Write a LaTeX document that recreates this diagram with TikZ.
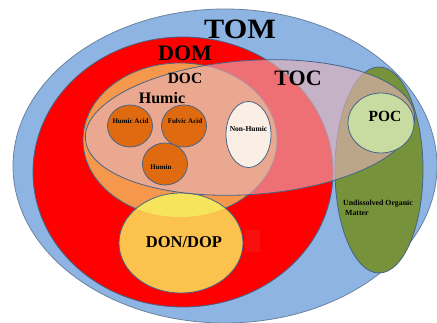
\documentclass[tikz,border=0pt]{standalone}
\usepackage{fontspec}
\setmainfont{Liberation Serif}
\definecolor{tomblue}{RGB}{141,180,226}
\definecolor{edgeblue}{RGB}{70,100,135}
\definecolor{domred}{RGB}{255,0,0}
\definecolor{docorange}{RGB}{245,152,78}
\definecolor{olive}{RGB}{118,146,58}
\definecolor{donyellow}{RGB}{252,194,78}
\definecolor{donlight}{RGB}{245,228,92}
\definecolor{tocpink}{RGB}{230,178,184}
\definecolor{humicor}{RGB}{224,106,16}
\definecolor{nonhum}{RGB}{251,238,228}
\definecolor{pocgreen}{RGB}{200,219,160}
\definecolor{artred}{RGB}{247,16,14}
\tikzset{
  region/.style={draw=edgeblue, line width=0.8pt},
  big/.style={font=\fontsize{22}{24}\selectfont\bfseries, inner sep=0pt},
  mid/.style={font=\fontsize{15.5}{17}\selectfont\bfseries, inner sep=0pt},
  tiny/.style={font=\fontsize{7}{8}\selectfont\bfseries, inner sep=0pt},
}
\begin{document}
\begin{tikzpicture}[x=1pt,y=-1pt]
\useasboundingbox[fill=white] (0,0) rectangle (437,323);
% TOM
\fill[tomblue] (225,166) ellipse [x radius=212pt, y radius=157pt];
\draw[region, draw=edgeblue!80] (225,166) ellipse [x radius=212pt, y radius=157pt];
% DOM
\draw[region, fill=domred] (183,172) ellipse [x radius=150pt, y radius=135pt];
% Undissolved organic matter
\draw[region, fill=olive] (379,170) ellipse [x radius=44pt, y radius=103pt];
% DOC
\draw[region, fill=docorange] (180,140) ellipse [x radius=97pt, y radius=77pt];
% DON/DOP
\fill[donyellow] (181,243) ellipse [x radius=62pt, y radius=50pt];
\begin{scope}
  \clip (180,140) ellipse [x radius=97pt, y radius=77pt];
  \fill[donlight] (181,243) ellipse [x radius=62pt, y radius=50pt];
\end{scope}
\draw[region] (181,243) ellipse [x radius=62pt, y radius=50pt];
\fill[artred] (244.5,230) rectangle (260,252);
% TOC
\draw[region, fill=tocpink, fill opacity=0.63, rotate around={4:(250,127.5)}] (250,127.5) ellipse [x radius=165pt, y radius=67pt];
% inner circles
\draw[region, fill=humicor] (130,126) ellipse [x radius=22.5pt, y radius=21pt];
\draw[region, fill=humicor] (184,126) ellipse [x radius=22.5pt, y radius=21pt];
\draw[region, fill=humicor] (165,164) ellipse [x radius=22.5pt, y radius=21pt];
\draw[region, fill=nonhum] (248.5,134.5) ellipse [x radius=22.5pt, y radius=33pt];
\draw[region, fill=pocgreen] (381,123) ellipse [x radius=33pt, y radius=30pt];
% labels
\node[big, font=\fontsize{28}{30}\selectfont\bfseries, xscale=1.08] (tom) at (240,29) {TOM};
\node[big] (dom) at (185,53.5) {DOM};
\node[mid] (doc) at (185,78) {DOC};
\node[big] (toc) at (298,78) {TOC};
\node[mid, font=\fontsize{16}{18}\selectfont\bfseries] (humic) at (162,98) {Humic};
\node[mid] (poc) at (385,116) {POC};
\node[mid, font=\fontsize{16.5}{18}\selectfont\bfseries] (don) at (184,242) {DON/DOP};
\node[tiny] (ha) at (130.5,121.5) {Humic Acid};
\node[tiny] (fa) at (185,121.5) {Fulvic Acid};
\node[tiny] (hu) at (161,167) {Humin};
\node[tiny, font=\fontsize{7.5}{8}\selectfont\bfseries] (nh) at (248.5,129) {Non-Humic};
\node[tiny, font=\fontsize{7.8}{9}\selectfont\bfseries, anchor=base west] (uom1) at (343,205.3) {Undissolved Organic};
\node[tiny, font=\fontsize{7.8}{9}\selectfont\bfseries, anchor=base west] (uom2) at (345,215.3) {Matter};
\end{tikzpicture}
\end{document}
